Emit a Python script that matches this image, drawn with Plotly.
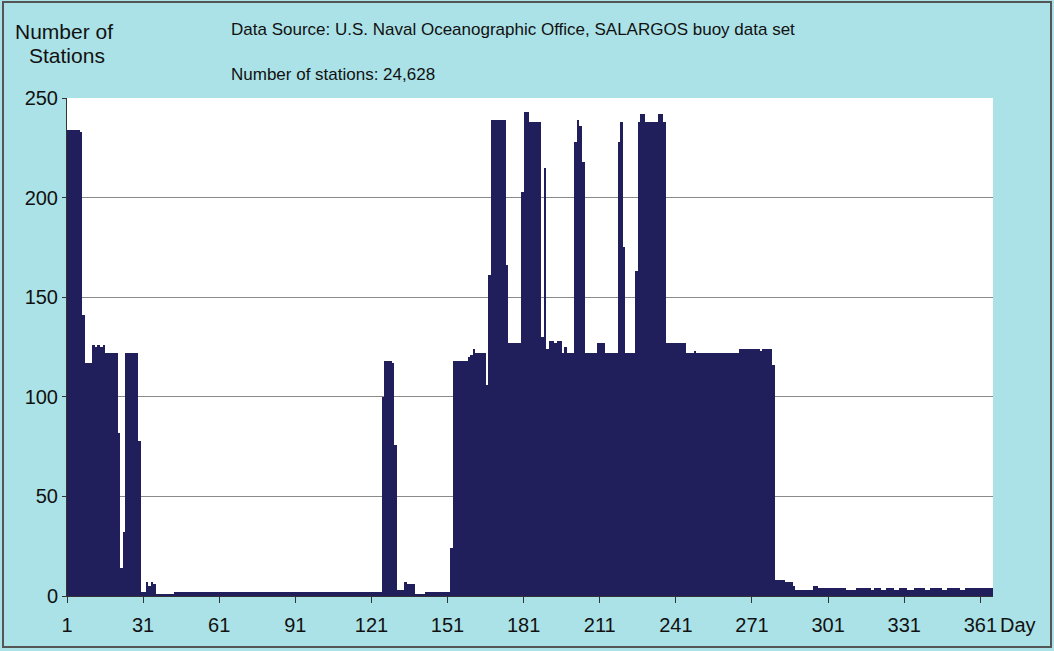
import plotly.graph_objects as go

# ---- data: number of stations per day of year (1..365) ----
stations_d001_060 = [
    234, 234, 234, 234, 234, 233, 141, 117, 117, 117,
    126, 125, 126, 125, 126, 122, 122, 122, 122, 122,
    82, 14, 32, 122, 122, 122, 122, 122, 78, 2,
    2, 7, 5, 7, 6, 1, 1, 1, 1, 1,
    1, 1, 2, 2, 2, 2, 2, 2, 2, 2,
    2, 2, 2, 2, 2, 2, 2, 2, 2, 2,
]
stations_d061_120 = [
    2, 2, 2, 2, 2, 2, 2, 2, 2, 2,
    2, 2, 2, 2, 2, 2, 2, 2, 2, 2,
    2, 2, 2, 2, 2, 2, 2, 2, 2, 2,
    2, 2, 2, 2, 2, 2, 2, 2, 2, 2,
    2, 2, 2, 2, 2, 2, 2, 2, 2, 2,
    2, 2, 2, 2, 2, 2, 2, 2, 2, 2,
]
stations_d121_180 = [
    2, 2, 2, 2, 100, 118, 118, 118, 117, 76,
    3, 3, 3, 7, 6, 6, 6, 1, 1, 1,
    1, 2, 2, 2, 2, 2, 2, 2, 2, 2,
    2, 24, 118, 118, 118, 118, 118, 118, 120, 121,
    124, 122, 122, 122, 122, 106, 161, 239, 239, 239,
    239, 239, 239, 166, 127, 127, 127, 127, 127, 203,
]
stations_d181_240 = [
    243, 243, 238, 238, 238, 238, 238, 130, 215, 124,
    128, 128, 127, 128, 128, 122, 125, 122, 122, 122,
    228, 239, 236, 218, 122, 122, 122, 122, 122, 127,
    127, 127, 122, 122, 122, 122, 122, 228, 238, 175,
    122, 122, 122, 122, 163, 238, 242, 242, 238, 238,
    238, 238, 238, 242, 242, 238, 127, 127, 127, 127,
]
stations_d241_300 = [
    127, 127, 127, 127, 122, 122, 122, 123, 122, 122,
    122, 122, 122, 122, 122, 122, 122, 122, 122, 122,
    122, 122, 122, 122, 122, 124, 124, 124, 124, 124,
    124, 124, 124, 123, 124, 124, 124, 124, 116, 8,
    8, 8, 8, 7, 7, 7, 5, 3, 3, 3,
    3, 3, 3, 3, 5, 5, 4, 4, 4, 4,
]
stations_d301_365 = [
    4, 4, 4, 4, 4, 4, 4, 3, 3, 3,
    3, 4, 4, 4, 4, 4, 4, 3, 4, 4,
    4, 3, 3, 4, 4, 4, 3, 3, 4, 4,
    4, 3, 3, 3, 4, 4, 4, 4, 3, 3,
    4, 4, 4, 4, 4, 3, 3, 4, 4, 4,
    4, 4, 3, 3, 4, 4, 4, 4, 4, 4,
    4, 4, 4, 4, 4,
]
stations = (stations_d001_060 + stations_d061_120 + stations_d121_180
            + stations_d181_240 + stations_d241_300 + stations_d301_365)
days = list(range(1, len(stations) + 1))

tick_labels = ["1", "31", "61", "91", "121", "151", "181", "211",
               "241", "271", "301", "331", "361"]
tick_days = [int(t) for t in tick_labels]
y_ticks = [0, 50, 100, 150, 200, 250]

title_source = "Data Source: U.S. Naval Oceanographic Office, SALARGOS buoy data set"
title_count = "Number of stations: 24,628"

FONT = "Liberation Sans, Arial, sans-serif"
BAR = "#211e5c"
BG = "#abe2e7"

fig = go.Figure(go.Bar(
    x=days, y=stations,
    marker=dict(color=BAR, line=dict(width=0)),
    hoverinfo="x+y",
))

W, H = 1054, 651
L, R, T, B = 67, 61, 98, 55
pw, ph = W - L - R, H - T - B

def px(xp):
    return (xp - L) / pw

def py(yp):
    return (H - B - yp) / ph

TXT = "#111111"

fig.update_layout(
    width=W, height=H,
    margin=dict(l=L, r=R, t=T, b=B),
    paper_bgcolor=BG, plot_bgcolor="white",
    bargap=0, showlegend=False,
    font=dict(family=FONT, color=TXT),
    xaxis=dict(
        range=[0.5, len(stations) + 0.5],
        tickmode="array",
        tickvals=[d - 0.5 for d in tick_days],
        ticktext=tick_labels,
        ticks="outside", ticklen=6, tickcolor="#333333",
        showline=True, linecolor="#333333", linewidth=1,
        showgrid=False, zeroline=False,
        tickfont=dict(size=20, family=FONT, color=TXT),
        ticklabelstandoff=5,
    ),
    yaxis=dict(
        range=[0, 250],
        tickmode="array", tickvals=y_ticks,
        ticks="outside", ticklen=4, tickcolor="#333333",
        showline=True, linecolor="#333333", linewidth=1,
        showgrid=True, gridcolor="#8a8a8a", gridwidth=1,
        zeroline=False,
        tickfont=dict(size=20, family=FONT, color=TXT),
    ),
    annotations=[
        dict(text="Number of", x=px(64), y=py(32), xref="paper", yref="paper",
             xanchor="center", yanchor="middle", showarrow=False,
             font=dict(size=21, family=FONT, color=TXT)),
        dict(text="Stations", x=px(67), y=py(55), xref="paper", yref="paper",
             xanchor="center", yanchor="middle", showarrow=False,
             font=dict(size=21, family=FONT, color=TXT)),
        dict(text=title_source, x=px(229), y=py(29), xref="paper", yref="paper",
             xanchor="left", yanchor="middle", showarrow=False,
             font=dict(size=17, family=FONT, color=TXT)),
        dict(text=title_count, x=px(229), y=py(74), xref="paper", yref="paper",
             xanchor="left", yanchor="middle", showarrow=False,
             font=dict(size=17, family=FONT, color=TXT)),
        dict(text="Day", x=px(1018), y=py(625), xref="paper", yref="paper",
             xanchor="center", yanchor="middle", showarrow=False,
             font=dict(size=20, family=FONT, color=TXT)),
    ],
    shapes=[
        dict(type="rect", xref="paper", yref="paper",
             x0=px(3), x1=px(1051), y0=py(647), y1=py(2),
             line=dict(color="#555555", width=2), fillcolor="rgba(0,0,0,0)",
             layer="below"),
    ],
)

fig.write_html("out.html",
               config={"displayModeBar": False},
               post_script="document.body.style.margin='0';document.body.style.padding='0';")
